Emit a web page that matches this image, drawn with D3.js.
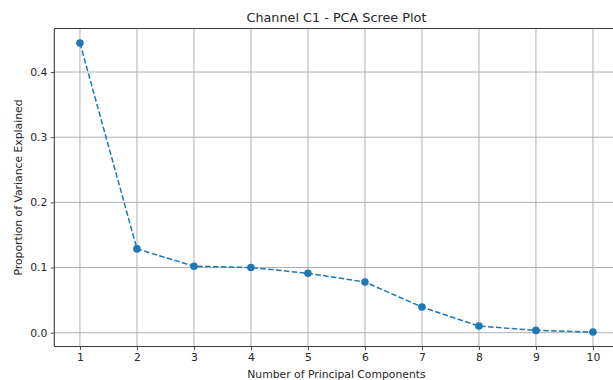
<!DOCTYPE html>
<html>
<head>
<meta charset="utf-8">
<script src="https://cdn.jsdelivr.net/npm/d3@7"></script>
<style>
  html, body { margin: 0; padding: 0; background: #fff; }
  svg { display: block; font-family: "DejaVu Sans", sans-serif; }
</style>
</head>
<body>
<svg id="chart" width="613" height="380"></svg>
<script>
// Principal component index and the share of variance each explains
const components = [1, 2, 3, 4, 5, 6, 7, 8, 9, 10];
const varianceRatio = [0.4446, 0.1286, 0.1020, 0.1000, 0.0912, 0.0778, 0.0394, 0.0102, 0.0035, 0.0010];
const yTicks = [0.0, 0.1, 0.2, 0.3, 0.4];
const xTicks = [1, 2, 3, 4, 5, 6, 7, 8, 9, 10];

const titleText = "Channel C1 - PCA Scree Plot";
const xLabel = "Number of Principal Components";
const yLabel = "Proportion of Variance Explained";

const svg = d3.select("#chart");

// Plot area (the right spine sits just past the visible canvas)
const plotL = 54.3, plotR = 618.6, plotT = 28.5, plotB = 346.5;

// Pad the data range by 5% on each side
const pad = (lo, hi) => { const r = hi - lo; return [lo - 0.05 * r, hi + 0.05 * r]; };
const x = d3.scaleLinear().domain(pad(d3.min(components), d3.max(components))).range([plotL, plotR]);
const y = d3.scaleLinear().domain(pad(d3.min(varianceRatio), d3.max(varianceRatio))).range([plotB, plotT]);

const gridColor = "#b0b0b0";
const spineColor = "#3a3a3a";
const lineColor = "#1f77b4";
const textColor = "#262626";
const labelSize = "10.8px";

// Grid
const grid = svg.append("g");
grid.selectAll("line.vx").data(xTicks).join("line")
  .attr("x1", d => x(d)).attr("x2", d => x(d))
  .attr("y1", plotT).attr("y2", plotB)
  .attr("stroke", gridColor).attr("stroke-width", 1);
grid.selectAll("line.hy").data(yTicks).join("line")
  .attr("x1", plotL).attr("x2", plotR)
  .attr("y1", d => y(d)).attr("y2", d => y(d))
  .attr("stroke", gridColor).attr("stroke-width", 1);

// Axes
const xAxis = d3.axisBottom(x).tickValues(xTicks).tickFormat(d3.format("d"))
  .tickSizeInner(3.5).tickSizeOuter(0).tickPadding(3.5);
const yAxis = d3.axisLeft(y).tickValues(yTicks).tickFormat(d3.format(".1f"))
  .tickSizeInner(3.5).tickSizeOuter(0).tickPadding(3.5);

const gx = svg.append("g").attr("transform", `translate(0,${plotB})`).call(xAxis);
const gy = svg.append("g").attr("transform", `translate(${plotL},0)`).call(yAxis);
[gx, gy].forEach(g => {
  g.select(".domain").remove();
  g.selectAll(".tick line").attr("stroke", spineColor).attr("stroke-width", 0.9);
  g.selectAll(".tick text").attr("fill", textColor).style("font-size", labelSize)
    .style("font-family", "'DejaVu Sans', sans-serif");
});

// Spines
const spines = svg.append("g").attr("stroke", spineColor).attr("stroke-width", 1.1).attr("fill", "none");
spines.append("line").attr("x1", plotL).attr("x2", plotL).attr("y1", plotT).attr("y2", plotB);
spines.append("line").attr("x1", plotL).attr("x2", plotR).attr("y1", plotB).attr("y2", plotB);
spines.append("line").attr("x1", plotL).attr("x2", plotR).attr("y1", plotT).attr("y2", plotT);
spines.append("line").attr("x1", plotR).attr("x2", plotR).attr("y1", plotT).attr("y2", plotB);

// Dashed series line with round markers
const pts = components.map((c, i) => [c, varianceRatio[i]]);
svg.append("path")
  .datum(pts)
  .attr("d", d3.line().x(d => x(d[0])).y(d => y(d[1])))
  .attr("fill", "none")
  .attr("stroke", lineColor)
  .attr("stroke-width", 1.5)
  .attr("stroke-dasharray", "5.5,2.4");
svg.append("g").selectAll("circle").data(pts).join("circle")
  .attr("cx", d => x(d[0])).attr("cy", d => y(d[1]))
  .attr("r", 3.8).attr("fill", lineColor);

// Title and axis labels
const cx = (plotL + plotR) / 2;
svg.append("text").attr("x", cx).attr("y", 21.5).attr("text-anchor", "middle")
  .style("font-size", "12.8px").attr("fill", textColor).text(titleText);
svg.append("text").attr("x", cx).attr("y", 377.8).attr("text-anchor", "middle")
  .style("font-size", labelSize).attr("fill", textColor).text(xLabel);
svg.append("text")
  .attr("transform", `translate(22.3,${(plotT + plotB) / 2}) rotate(-90)`)
  .attr("text-anchor", "middle")
  .style("font-size", labelSize).attr("fill", textColor).text(yLabel);
</script>
</body>
</html>
